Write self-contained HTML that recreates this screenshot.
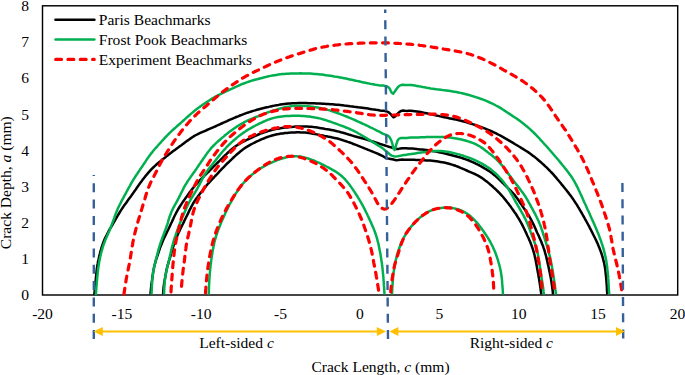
<!DOCTYPE html>
<html><head><meta charset="utf-8">
<style>
html,body{margin:0;padding:0;background:#fff;}
svg{display:block;}
text{font-family:"Liberation Serif",serif;font-size:15.55px;fill:#000;}
</style></head>
<body>
<svg width="685" height="375" viewBox="0 0 685 375">
<!-- plot box -->
<rect x="42.5" y="5.8" width="635.2" height="289.2" fill="none" stroke="#000" stroke-width="1.45"/>
<!-- y tick labels -->
<g text-anchor="end">
<text x="29" y="11">8</text>
<text x="29" y="47.2">7</text>
<text x="29" y="83.3">6</text>
<text x="29" y="119.5">5</text>
<text x="29" y="155.6">4</text>
<text x="29" y="191.8">3</text>
<text x="29" y="227.9">2</text>
<text x="29" y="264.1">1</text>
<text x="29" y="300.2">0</text>
</g>
<!-- x tick labels -->
<g text-anchor="middle">
<text x="42.5" y="318.5">-20</text>
<text x="121.9" y="318.5">-15</text>
<text x="201.2" y="318.5">-10</text>
<text x="280.6" y="318.5">-5</text>
<text x="360" y="318.5">0</text>
<text x="439.4" y="318.5">5</text>
<text x="518.8" y="318.5">10</text>
<text x="598.1" y="318.5">15</text>
<text x="677.5" y="318.5">20</text>
</g>
<!-- axis titles -->
<text x="380.5" y="371.8" text-anchor="middle">Crack Length, <tspan font-style="italic">c</tspan> (mm)</text>
<text transform="translate(11.2,182.7) rotate(-90)" text-anchor="middle">Crack Depth, <tspan font-style="italic">a</tspan> (mm)</text>
<text x="236.5" y="348" text-anchor="middle">Left-sided <tspan font-style="italic">c</tspan></text>
<text x="511.3" y="348.3" text-anchor="middle">Right-sided <tspan font-style="italic">c</tspan></text>

<!-- CURVES -->
<g id="curves" fill="none" stroke-linejoin="round">
<path d="M94.3,295.0 L94.5,292.8 L94.7,290.7 L94.9,288.8 L95.0,286.9 L95.2,284.9 L95.4,283.0 L95.6,281.0 L95.8,279.1 L96.0,277.1 L96.2,275.1 L96.4,273.1 L96.6,271.1 L96.8,269.1 L97.1,267.1 L97.4,265.2 L97.8,263.2 L98.1,261.2 L98.6,259.3 L99.0,257.3 L99.5,255.4 L99.9,253.5 L100.4,251.5 L101.0,249.6 L101.5,247.7 L102.1,245.8 L102.8,243.9 L103.5,242.0 L104.2,240.2 L105.0,238.3 L105.9,236.5 L106.8,234.8 L107.7,233.0 L108.6,231.2 L109.6,229.5 L110.6,227.8 L111.7,226.1 L112.7,224.3 L113.7,222.6 L114.7,220.9 L115.7,219.2 L116.7,217.4 L117.7,215.7 L118.7,214.0 L119.7,212.3 L120.8,210.6 L121.9,208.9 L123.0,207.2 L124.1,205.6 L125.3,204.0 L126.5,202.4 L127.6,200.7 L128.8,199.1 L130.0,197.5 L131.2,195.9 L132.3,194.3 L133.5,192.6 L134.6,191.0 L135.8,189.4 L136.9,187.7 L138.1,186.1 L139.2,184.4 L140.4,182.8 L141.6,181.2 L142.7,179.6 L144.0,178.0 L145.2,176.4 L146.5,174.9 L147.8,173.4 L149.1,171.9 L150.4,170.4 L151.8,168.9 L153.2,167.5 L154.7,166.1 L156.1,164.8 L157.6,163.5 L159.1,162.2 L160.7,160.9 L162.2,159.6 L163.8,158.4 L165.4,157.2 L166.9,155.9 L168.5,154.7 L170.1,153.5 L171.7,152.3 L173.3,151.1 L174.9,149.9 L176.5,148.7 L178.2,147.5 L179.8,146.3 L181.4,145.2 L183.0,143.9 L184.6,142.7 L186.2,141.5 L187.8,140.4 L189.4,139.2 L191.0,138.1 L192.7,137.0 L194.4,135.9 L196.1,135.0 L197.9,134.1 L199.7,133.2 L201.5,132.4 L203.3,131.6 L205.2,130.8 L207.0,130.0 L208.9,129.2 L210.7,128.4 L212.5,127.6 L214.3,126.8 L216.2,126.0 L218.0,125.1 L219.8,124.3 L221.6,123.5 L223.5,122.7 L225.3,121.9 L227.1,121.1 L228.9,120.2 L230.8,119.4 L232.6,118.6 L234.4,117.8 L236.3,117.0 L238.1,116.3 L240.0,115.5 L241.8,114.8 L243.7,114.1 L245.6,113.4 L247.5,112.7 L249.4,112.1 L251.3,111.5 L253.2,110.9 L255.1,110.4 L257.0,109.8 L259.0,109.3 L260.9,108.8 L262.8,108.3 L264.8,107.8 L266.7,107.3 L268.7,106.9 L270.6,106.4 L272.6,106.0 L274.5,105.6 L276.5,105.2 L278.5,104.9 L280.4,104.5 L282.4,104.2 L284.4,104.0 L286.4,103.8 L288.4,103.6 L290.3,103.4 L292.3,103.3 L294.3,103.2 L296.3,103.2 L298.3,103.1 L300.3,103.1 L302.3,103.1 L304.3,103.1 L306.3,103.1 L308.3,103.2 L310.3,103.2 L312.3,103.3 L314.3,103.3 L316.3,103.4 L318.3,103.5 L320.3,103.6 L322.3,103.7 L324.3,103.8 L326.3,103.9 L328.3,104.0 L330.3,104.2 L332.3,104.3 L334.3,104.5 L336.3,104.7 L338.3,104.8 L340.3,105.0 L342.3,105.2 L344.3,105.5 L346.3,105.7 L348.2,105.9 L350.2,106.2 L352.2,106.4 L354.2,106.7 L356.2,106.9 L358.2,107.2 L360.1,107.4 L362.1,107.7 L364.1,108.0 L366.1,108.3 L368.1,108.6 L370.0,108.9 L372.0,109.2 L374.0,109.4 L376.0,109.8 L377.9,110.1 L379.9,110.5 L381.9,110.7 L383.9,110.8 L385.9,111.2 L387.8,111.9 L389.4,112.9 L390.9,114.3 L392.1,115.9 L393.5,117.3 L395.2,116.4 L396.5,114.9 L397.9,113.4 L399.3,112.1 L401.0,111.0 L403.0,110.6 L405.1,110.8 L407.0,110.9 L408.9,110.8 L410.9,110.8 L412.9,111.0 L414.8,111.2 L416.8,111.5 L418.8,111.8 L420.7,112.1 L422.7,112.5 L424.7,112.9 L426.6,113.3 L428.6,113.7 L430.5,114.1 L432.5,114.6 L434.4,115.0 L436.4,115.5 L438.3,115.9 L440.3,116.4 L442.2,116.8 L444.2,117.2 L446.2,117.6 L448.1,118.0 L450.1,118.4 L452.0,118.8 L454.0,119.2 L456.0,119.6 L457.9,120.0 L459.9,120.5 L461.8,121.0 L463.7,121.5 L465.7,122.0 L467.6,122.6 L469.5,123.2 L471.4,123.8 L473.3,124.4 L475.2,125.0 L477.1,125.7 L479.0,126.3 L480.8,127.0 L482.7,127.7 L484.6,128.4 L486.5,129.2 L488.3,129.9 L490.2,130.7 L492.0,131.5 L493.8,132.3 L495.6,133.2 L497.4,134.1 L499.2,135.0 L500.9,135.9 L502.7,136.9 L504.4,137.9 L506.2,138.9 L507.9,139.9 L509.6,140.9 L511.3,141.9 L513.1,142.9 L514.8,144.0 L516.5,145.0 L518.2,146.0 L519.9,147.0 L521.6,148.1 L523.3,149.1 L525.0,150.2 L526.7,151.3 L528.4,152.4 L530.0,153.5 L531.6,154.7 L533.2,155.9 L534.8,157.1 L536.4,158.4 L537.9,159.7 L539.4,161.0 L540.9,162.3 L542.4,163.6 L543.9,165.0 L545.3,166.3 L546.8,167.7 L548.2,169.1 L549.6,170.5 L551.0,172.0 L552.4,173.4 L553.7,174.9 L555.0,176.4 L556.3,177.9 L557.6,179.5 L558.9,181.0 L560.2,182.5 L561.4,184.1 L562.7,185.6 L564.0,187.2 L565.2,188.7 L566.5,190.3 L567.7,191.9 L568.9,193.4 L570.1,195.0 L571.3,196.6 L572.5,198.3 L573.6,199.9 L574.7,201.6 L575.8,203.3 L576.9,204.9 L577.9,206.6 L579.0,208.4 L580.0,210.1 L581.0,211.8 L582.0,213.5 L583.0,215.3 L584.0,217.0 L584.9,218.8 L585.9,220.5 L586.9,222.3 L587.8,224.0 L588.8,225.8 L589.7,227.6 L590.6,229.3 L591.5,231.1 L592.4,232.9 L593.3,234.7 L594.2,236.5 L595.1,238.3 L596.0,240.1 L596.8,241.9 L597.7,243.7 L598.4,245.5 L599.2,247.4 L599.9,249.3 L600.6,251.1 L601.3,253.0 L601.9,254.9 L602.5,256.8 L603.0,258.7 L603.5,260.7 L604.0,262.6 L604.4,264.6 L604.8,266.5 L605.1,268.5 L605.4,270.5 L605.6,272.5 L605.8,274.5 L606.0,276.4 L606.2,278.4 L606.4,280.4 L606.5,282.4 L606.7,284.3 L606.8,286.2 L606.9,288.2 L607.0,290.1 L607.1,292.2 L607.3,294.4" stroke="#000" stroke-width="2.5"/>
<path d="M150.5,294.5 L150.7,292.2 L150.8,290.2 L151.0,288.3 L151.2,286.4 L151.4,284.4 L151.7,282.5 L152.0,280.6 L152.3,278.6 L152.5,276.6 L152.8,274.6 L153.1,272.7 L153.4,270.7 L153.8,268.7 L154.2,266.8 L154.7,264.8 L155.2,262.9 L155.7,261.0 L156.3,259.1 L156.9,257.2 L157.6,255.3 L158.2,253.4 L158.8,251.5 L159.5,249.6 L160.1,247.7 L160.8,245.9 L161.6,244.0 L162.3,242.2 L163.1,240.3 L163.9,238.5 L164.8,236.7 L165.6,234.9 L166.5,233.1 L167.4,231.3 L168.3,229.5 L169.1,227.7 L170.0,225.9 L170.8,224.0 L171.7,222.2 L172.5,220.4 L173.4,218.6 L174.2,216.8 L175.1,215.0 L176.0,213.2 L177.0,211.4 L177.9,209.7 L178.9,208.0 L180.0,206.3 L181.1,204.6 L182.2,202.9 L183.3,201.3 L184.5,199.6 L185.6,198.0 L186.8,196.4 L188.0,194.8 L189.1,193.1 L190.3,191.5 L191.5,189.9 L192.8,188.4 L194.0,186.8 L195.3,185.3 L196.6,183.8 L198.0,182.3 L199.3,180.8 L200.7,179.4 L202.2,178.0 L203.6,176.6 L205.0,175.2 L206.4,173.8 L207.9,172.4 L209.3,171.0 L210.7,169.5 L212.1,168.1 L213.5,166.7 L214.9,165.3 L216.4,163.9 L217.8,162.5 L219.2,161.1 L220.7,159.7 L222.1,158.3 L223.5,156.9 L224.9,155.5 L226.4,154.1 L227.8,152.7 L229.3,151.4 L230.8,150.0 L232.3,148.7 L233.9,147.5 L235.5,146.3 L237.1,145.2 L238.8,144.1 L240.5,143.1 L242.2,142.2 L244.0,141.3 L245.8,140.4 L247.6,139.5 L249.4,138.7 L251.2,137.8 L253.0,137.0 L254.8,136.1 L256.7,135.3 L258.5,134.5 L260.3,133.7 L262.2,133.0 L264.1,132.3 L266.0,131.7 L267.9,131.1 L269.8,130.5 L271.7,130.0 L273.7,129.6 L275.6,129.1 L277.6,128.8 L279.6,128.4 L281.5,128.1 L283.5,127.8 L285.5,127.6 L287.5,127.4 L289.5,127.1 L291.5,126.9 L293.5,126.8 L295.5,126.6 L297.5,126.5 L299.5,126.4 L301.5,126.4 L303.5,126.4 L305.5,126.4 L307.5,126.5 L309.4,126.7 L311.4,126.8 L313.4,127.1 L315.4,127.3 L317.4,127.6 L319.4,127.9 L321.3,128.2 L323.3,128.5 L325.3,128.9 L327.3,129.2 L329.2,129.5 L331.2,129.9 L333.2,130.3 L335.1,130.7 L337.1,131.2 L339.0,131.6 L340.9,132.2 L342.9,132.7 L344.8,133.3 L346.7,133.9 L348.6,134.5 L350.5,135.0 L352.4,135.6 L354.4,136.2 L356.3,136.7 L358.2,137.3 L360.1,137.8 L362.1,138.3 L364.0,138.9 L365.9,139.4 L367.9,140.0 L369.8,140.6 L371.7,141.2 L373.6,141.8 L375.5,142.4 L377.4,143.0 L379.3,143.6 L381.2,144.3 L383.1,144.9 L385.0,145.5 L386.9,146.1 L388.8,146.7 L390.8,147.2 L392.7,147.8 L394.6,148.5 L396.5,149.0 L398.5,148.9 L400.5,148.4 L402.4,148.2 L404.4,148.3 L406.4,148.3 L408.4,148.4 L410.4,148.5 L412.4,148.6 L414.4,148.8 L416.4,149.0 L418.3,149.2 L420.3,149.4 L422.3,149.6 L424.3,149.8 L426.3,150.0 L428.3,150.3 L430.3,150.5 L432.2,150.9 L434.2,151.2 L436.2,151.6 L438.1,152.0 L440.1,152.4 L442.0,152.8 L444.0,153.3 L445.9,153.7 L447.9,154.2 L449.8,154.7 L451.8,155.2 L453.7,155.7 L455.6,156.2 L457.6,156.8 L459.5,157.3 L461.4,157.9 L463.3,158.5 L465.2,159.1 L467.1,159.8 L469.0,160.5 L470.8,161.3 L472.6,162.1 L474.4,162.9 L476.2,163.8 L478.0,164.7 L479.8,165.7 L481.6,166.6 L483.3,167.6 L485.0,168.6 L486.8,169.6 L488.4,170.7 L490.1,171.8 L491.7,172.9 L493.3,174.2 L494.8,175.4 L496.3,176.7 L497.8,178.1 L499.3,179.5 L500.7,180.9 L502.1,182.3 L503.5,183.7 L504.9,185.1 L506.4,186.5 L507.8,187.9 L509.2,189.3 L510.6,190.7 L512.0,192.2 L513.4,193.6 L514.7,195.1 L515.9,196.7 L517.1,198.3 L518.3,199.9 L519.4,201.5 L520.5,203.2 L521.7,204.8 L522.8,206.5 L523.9,208.2 L525.0,209.8 L526.1,211.5 L527.2,213.2 L528.3,214.8 L529.4,216.5 L530.4,218.3 L531.3,220.0 L532.2,221.8 L533.1,223.6 L534.0,225.4 L534.8,227.2 L535.6,229.0 L536.4,230.9 L537.2,232.7 L538.1,234.5 L538.9,236.3 L539.7,238.2 L540.5,240.0 L541.3,241.8 L542.0,243.7 L542.8,245.5 L543.4,247.4 L544.1,249.3 L544.7,251.2 L545.2,253.1 L545.8,255.1 L546.3,257.0 L546.7,258.9 L547.2,260.9 L547.6,262.9 L548.0,264.8 L548.5,266.8 L548.9,268.7 L549.3,270.7 L549.7,272.6 L550.1,274.6 L550.5,276.6 L550.9,278.5 L551.2,280.5 L551.5,282.4 L551.8,284.4 L552.1,286.3 L552.3,288.2 L552.6,290.1 L552.8,292.2 L553.0,294.4" stroke="#000" stroke-width="2.5"/>
<path d="M163.1,294.5 L163.2,292.2 L163.4,290.2 L163.5,288.3 L163.7,286.4 L164.0,284.4 L164.3,282.5 L164.6,280.6 L165.0,278.6 L165.3,276.7 L165.6,274.7 L166.0,272.7 L166.4,270.8 L166.8,268.8 L167.3,266.9 L167.8,264.9 L168.4,263.0 L168.9,261.1 L169.5,259.2 L170.1,257.3 L170.7,255.3 L171.2,253.4 L171.8,251.5 L172.3,249.6 L172.9,247.7 L173.5,245.8 L174.1,243.9 L174.8,242.0 L175.5,240.1 L176.2,238.2 L177.0,236.4 L177.8,234.6 L178.6,232.7 L179.5,230.9 L180.3,229.1 L181.2,227.3 L182.1,225.5 L183.0,223.7 L183.9,221.9 L184.7,220.1 L185.6,218.3 L186.5,216.5 L187.4,214.7 L188.3,212.9 L189.1,211.1 L190.0,209.3 L190.9,207.6 L191.8,205.8 L192.8,204.0 L193.8,202.3 L194.9,200.6 L196.0,199.0 L197.2,197.4 L198.4,195.8 L199.6,194.2 L200.8,192.6 L202.1,191.0 L203.3,189.5 L204.6,187.9 L205.8,186.4 L207.1,184.8 L208.4,183.3 L209.8,181.9 L211.1,180.4 L212.5,178.9 L213.9,177.5 L215.2,176.0 L216.6,174.6 L218.0,173.1 L219.3,171.6 L220.7,170.2 L222.1,168.7 L223.5,167.3 L224.9,165.9 L226.3,164.4 L227.7,163.0 L229.2,161.7 L230.6,160.3 L232.1,158.9 L233.5,157.5 L235.0,156.1 L236.5,154.8 L238.0,153.5 L239.5,152.2 L241.0,150.9 L242.6,149.7 L244.2,148.5 L245.9,147.4 L247.6,146.4 L249.3,145.4 L251.0,144.4 L252.8,143.5 L254.6,142.6 L256.4,141.7 L258.2,140.9 L260.0,140.0 L261.9,139.2 L263.7,138.5 L265.6,137.7 L267.4,137.0 L269.3,136.4 L271.2,135.8 L273.1,135.2 L275.1,134.7 L277.0,134.3 L279.0,133.9 L281.0,133.6 L282.9,133.4 L284.9,133.1 L286.9,132.9 L288.9,132.7 L290.9,132.6 L292.9,132.5 L294.9,132.4 L296.9,132.3 L298.9,132.3 L300.9,132.4 L302.9,132.5 L304.9,132.6 L306.9,132.8 L308.8,133.0 L310.8,133.3 L312.8,133.7 L314.8,134.0 L316.7,134.4 L318.7,134.8 L320.6,135.2 L322.6,135.6 L324.6,136.0 L326.5,136.3 L328.5,136.7 L330.5,137.1 L332.4,137.5 L334.4,137.9 L336.3,138.3 L338.3,138.8 L340.2,139.4 L342.1,140.0 L344.0,140.6 L345.9,141.2 L347.8,141.9 L349.7,142.5 L351.6,143.2 L353.4,144.0 L355.3,144.7 L357.2,145.4 L359.0,146.1 L360.9,146.9 L362.8,147.6 L364.6,148.4 L366.5,149.1 L368.3,149.9 L370.2,150.6 L372.0,151.4 L373.9,152.2 L375.7,152.9 L377.6,153.7 L379.4,154.5 L381.2,155.3 L383.0,156.2 L384.7,157.3 L386.5,158.2 L388.4,158.6 L390.4,158.9 L392.4,159.3 L394.3,159.8 L396.3,160.2 L398.3,160.1 L400.3,159.7 L402.3,159.6 L404.3,159.7 L406.3,159.7 L408.3,159.7 L410.3,159.7 L412.3,159.7 L414.3,159.8 L416.3,159.9 L418.3,160.0 L420.3,160.1 L422.3,160.2 L424.3,160.3 L426.3,160.4 L428.3,160.5 L430.3,160.6 L432.2,160.8 L434.2,161.0 L436.2,161.3 L438.2,161.6 L440.2,161.9 L442.1,162.2 L444.1,162.6 L446.1,163.0 L448.0,163.5 L449.9,164.0 L451.9,164.6 L453.8,165.2 L455.6,165.8 L457.5,166.5 L459.4,167.3 L461.2,168.1 L463.0,168.8 L464.9,169.7 L466.7,170.5 L468.5,171.3 L470.4,172.1 L472.2,172.9 L474.0,173.7 L475.8,174.5 L477.6,175.4 L479.3,176.4 L481.0,177.4 L482.7,178.5 L484.3,179.7 L485.9,180.9 L487.5,182.1 L489.0,183.4 L490.5,184.7 L492.1,186.0 L493.5,187.4 L495.0,188.7 L496.5,190.1 L497.9,191.5 L499.3,192.9 L500.7,194.4 L502.0,195.8 L503.3,197.3 L504.6,198.9 L505.9,200.4 L507.1,202.0 L508.4,203.6 L509.6,205.2 L510.8,206.8 L511.9,208.4 L513.1,210.0 L514.2,211.7 L515.4,213.3 L516.5,215.0 L517.5,216.7 L518.6,218.4 L519.6,220.1 L520.6,221.8 L521.6,223.6 L522.5,225.4 L523.4,227.2 L524.3,229.0 L525.1,230.8 L526.0,232.6 L526.8,234.4 L527.6,236.2 L528.5,238.0 L529.3,239.9 L530.1,241.7 L530.8,243.5 L531.5,245.4 L532.2,247.3 L532.8,249.2 L533.4,251.1 L534.0,253.0 L534.5,255.0 L534.9,256.9 L535.4,258.9 L535.8,260.8 L536.1,262.8 L536.5,264.7 L536.9,266.7 L537.2,268.7 L537.6,270.7 L537.9,272.6 L538.3,274.6 L538.6,276.6 L539.0,278.5 L539.3,280.5 L539.6,282.4 L539.9,284.4 L540.2,286.3 L540.5,288.2 L540.7,290.1 L541.0,292.2 L541.3,294.4" stroke="#000" stroke-width="2.5"/>
<path d="M95.8,295.0 L96.0,292.8 L96.1,290.7 L96.3,288.8 L96.4,286.9 L96.6,284.9 L96.7,283.0 L96.9,281.0 L97.1,279.0 L97.3,277.1 L97.5,275.1 L97.7,273.1 L97.9,271.1 L98.1,269.1 L98.4,267.1 L98.7,265.1 L99.0,263.2 L99.3,261.2 L99.7,259.3 L100.1,257.3 L100.6,255.3 L101.0,253.4 L101.5,251.5 L102.1,249.6 L102.6,247.6 L103.2,245.7 L103.9,243.9 L104.6,242.0 L105.3,240.1 L106.1,238.3 L106.9,236.4 L107.7,234.6 L108.5,232.8 L109.3,230.9 L110.0,229.1 L110.8,227.3 L111.5,225.4 L112.2,223.5 L112.9,221.7 L113.6,219.8 L114.3,217.9 L114.9,216.0 L115.6,214.1 L116.3,212.3 L117.1,210.4 L117.9,208.6 L118.7,206.8 L119.6,205.0 L120.5,203.2 L121.4,201.4 L122.3,199.7 L123.3,197.9 L124.2,196.1 L125.2,194.4 L126.1,192.6 L127.1,190.9 L128.0,189.1 L129.0,187.3 L130.0,185.6 L130.9,183.9 L131.9,182.1 L133.0,180.4 L134.0,178.7 L135.1,177.0 L136.2,175.3 L137.3,173.7 L138.4,172.0 L139.5,170.4 L140.6,168.7 L141.8,167.1 L142.9,165.4 L144.0,163.7 L145.1,162.1 L146.2,160.4 L147.3,158.8 L148.5,157.1 L149.6,155.5 L150.8,153.9 L152.1,152.4 L153.3,150.8 L154.6,149.3 L155.9,147.8 L157.3,146.3 L158.6,144.8 L159.9,143.3 L161.3,141.8 L162.6,140.3 L164.0,138.9 L165.3,137.4 L166.7,136.0 L168.1,134.5 L169.5,133.1 L171.0,131.7 L172.4,130.3 L173.9,129.0 L175.4,127.7 L176.9,126.3 L178.4,125.0 L179.9,123.7 L181.4,122.4 L182.9,121.0 L184.4,119.7 L185.8,118.4 L187.3,117.0 L188.8,115.7 L190.3,114.4 L191.8,113.1 L193.4,111.8 L194.9,110.5 L196.5,109.3 L198.1,108.1 L199.7,106.9 L201.3,105.8 L202.9,104.6 L204.6,103.5 L206.3,102.4 L207.9,101.3 L209.6,100.2 L211.3,99.1 L213.0,98.1 L214.7,97.1 L216.5,96.1 L218.3,95.2 L220.0,94.3 L221.8,93.4 L223.6,92.6 L225.4,91.7 L227.3,90.9 L229.1,90.0 L230.9,89.2 L232.7,88.4 L234.5,87.5 L236.3,86.7 L238.1,85.8 L240.0,85.0 L241.8,84.2 L243.7,83.5 L245.5,82.8 L247.4,82.1 L249.3,81.5 L251.2,80.9 L253.1,80.3 L255.0,79.7 L257.0,79.2 L258.9,78.7 L260.8,78.2 L262.8,77.7 L264.7,77.2 L266.6,76.8 L268.6,76.3 L270.5,75.9 L272.5,75.5 L274.5,75.2 L276.4,74.9 L278.4,74.6 L280.4,74.3 L282.4,74.1 L284.4,73.9 L286.4,73.8 L288.4,73.7 L290.4,73.6 L292.4,73.5 L294.4,73.4 L296.4,73.4 L298.4,73.4 L300.4,73.3 L302.4,73.4 L304.4,73.4 L306.4,73.5 L308.4,73.5 L310.4,73.6 L312.3,73.7 L314.3,73.9 L316.3,74.0 L318.3,74.2 L320.3,74.4 L322.3,74.6 L324.3,74.9 L326.3,75.2 L328.2,75.4 L330.2,75.7 L332.2,76.0 L334.2,76.4 L336.1,76.7 L338.1,77.0 L340.1,77.4 L342.0,77.8 L344.0,78.2 L346.0,78.6 L347.9,79.0 L349.9,79.4 L351.8,79.8 L353.8,80.2 L355.7,80.7 L357.7,81.1 L359.6,81.5 L361.6,82.0 L363.6,82.4 L365.5,82.8 L367.5,83.2 L369.4,83.6 L371.4,84.0 L373.4,84.3 L375.3,84.7 L377.3,85.0 L379.2,85.4 L381.2,85.6 L383.3,85.6 L385.2,85.9 L387.2,86.5 L388.8,87.6 L390.0,89.2 L390.8,91.0 L391.7,92.8 L393.2,93.7 L394.4,92.1 L395.5,90.5 L396.7,88.8 L397.8,87.2 L399.3,85.9 L401.1,85.0 L403.1,84.8 L405.2,84.9 L407.1,85.0 L409.0,84.9 L411.0,85.0 L412.9,85.3 L414.9,85.6 L416.8,85.9 L418.8,86.3 L420.8,86.6 L422.7,87.0 L424.7,87.3 L426.7,87.7 L428.6,88.0 L430.6,88.4 L432.6,88.7 L434.5,89.0 L436.5,89.3 L438.5,89.5 L440.5,89.8 L442.5,90.1 L444.5,90.3 L446.4,90.5 L448.4,90.8 L450.4,91.1 L452.4,91.4 L454.3,91.7 L456.3,92.1 L458.3,92.5 L460.2,92.9 L462.2,93.3 L464.1,93.8 L466.1,94.3 L468.0,94.8 L469.9,95.3 L471.8,95.9 L473.8,96.5 L475.7,97.1 L477.6,97.7 L479.4,98.3 L481.3,99.0 L483.2,99.7 L485.1,100.4 L486.9,101.2 L488.7,102.0 L490.6,102.8 L492.4,103.6 L494.2,104.5 L495.9,105.5 L497.7,106.4 L499.4,107.4 L501.1,108.4 L502.8,109.5 L504.5,110.6 L506.2,111.7 L507.8,112.8 L509.5,113.9 L511.2,115.0 L512.8,116.1 L514.5,117.2 L516.2,118.3 L517.8,119.4 L519.4,120.6 L521.0,121.8 L522.6,123.0 L524.2,124.2 L525.7,125.5 L527.3,126.8 L528.8,128.1 L530.3,129.4 L531.7,130.8 L533.2,132.1 L534.6,133.5 L536.0,134.9 L537.4,136.4 L538.8,137.8 L540.1,139.3 L541.5,140.8 L542.8,142.3 L544.1,143.8 L545.5,145.2 L546.8,146.7 L548.2,148.2 L549.5,149.7 L550.8,151.2 L552.1,152.7 L553.4,154.2 L554.7,155.8 L556.0,157.3 L557.3,158.8 L558.6,160.3 L559.9,161.9 L561.1,163.4 L562.4,165.0 L563.7,166.5 L564.9,168.1 L566.2,169.6 L567.4,171.2 L568.6,172.8 L569.8,174.4 L571.0,176.0 L572.1,177.7 L573.1,179.4 L574.2,181.1 L575.1,182.8 L576.1,184.6 L577.0,186.4 L577.9,188.1 L578.7,190.0 L579.6,191.8 L580.4,193.6 L581.3,195.4 L582.1,197.2 L582.9,199.0 L583.7,200.9 L584.5,202.7 L585.4,204.5 L586.2,206.3 L587.0,208.2 L587.8,210.0 L588.7,211.8 L589.5,213.6 L590.3,215.4 L591.1,217.3 L591.9,219.1 L592.8,220.9 L593.6,222.8 L594.4,224.6 L595.2,226.4 L596.0,228.3 L596.7,230.1 L597.5,231.9 L598.3,233.8 L599.0,235.6 L599.7,237.5 L600.4,239.4 L601.1,241.3 L601.7,243.2 L602.4,245.1 L602.9,247.0 L603.5,248.9 L604.0,250.8 L604.5,252.8 L605.0,254.7 L605.4,256.6 L605.8,258.6 L606.2,260.6 L606.5,262.5 L606.8,264.5 L607.1,266.5 L607.3,268.5 L607.5,270.5 L607.7,272.5 L607.9,274.4 L608.1,276.4 L608.2,278.4 L608.4,280.4 L608.5,282.4 L608.6,284.3 L608.7,286.2 L608.8,288.2 L608.9,290.1 L609.1,292.2 L609.2,294.4" stroke="#00B050" stroke-width="2.5"/>
<path d="M151.5,294.5 L151.6,292.2 L151.7,290.2 L151.8,288.3 L151.8,286.3 L152.0,284.4 L152.1,282.5 L152.2,280.5 L152.4,278.5 L152.6,276.5 L152.8,274.5 L153.1,272.6 L153.4,270.6 L153.8,268.6 L154.2,266.7 L154.7,264.7 L155.2,262.8 L155.6,260.9 L156.1,258.9 L156.6,257.0 L157.1,255.0 L157.6,253.1 L158.1,251.2 L158.7,249.2 L159.2,247.3 L159.8,245.4 L160.4,243.5 L161.0,241.6 L161.7,239.7 L162.4,237.8 L163.1,236.0 L163.8,234.1 L164.5,232.2 L165.2,230.3 L165.9,228.5 L166.5,226.6 L167.2,224.7 L167.8,222.8 L168.3,220.9 L168.9,218.9 L169.5,217.0 L170.2,215.2 L170.9,213.3 L171.6,211.5 L172.4,209.7 L173.3,207.9 L174.3,206.1 L175.2,204.4 L176.2,202.7 L177.2,200.9 L178.1,199.2 L179.0,197.4 L179.9,195.6 L180.8,193.8 L181.7,192.0 L182.6,190.2 L183.5,188.4 L184.4,186.7 L185.4,184.9 L186.5,183.2 L187.5,181.5 L188.6,179.9 L189.8,178.2 L190.9,176.6 L192.1,175.0 L193.2,173.3 L194.4,171.7 L195.6,170.1 L196.7,168.4 L197.8,166.8 L198.9,165.1 L200.1,163.5 L201.2,161.8 L202.3,160.2 L203.4,158.5 L204.6,156.9 L205.7,155.3 L206.9,153.6 L208.0,152.0 L209.3,150.5 L210.5,148.9 L211.8,147.4 L213.2,146.0 L214.6,144.6 L216.0,143.2 L217.5,141.8 L219.0,140.5 L220.5,139.2 L222.0,137.9 L223.6,136.6 L225.1,135.3 L226.7,134.1 L228.2,132.8 L229.8,131.6 L231.4,130.4 L233.0,129.2 L234.7,128.1 L236.3,126.9 L238.0,125.9 L239.7,124.8 L241.4,123.8 L243.2,122.9 L244.9,121.9 L246.7,121.0 L248.5,120.2 L250.4,119.4 L252.2,118.6 L254.0,117.8 L255.9,117.0 L257.7,116.3 L259.6,115.5 L261.5,114.8 L263.3,114.1 L265.2,113.4 L267.1,112.7 L269.0,112.0 L270.9,111.4 L272.8,110.7 L274.7,110.1 L276.6,109.6 L278.5,109.0 L280.4,108.5 L282.4,108.0 L284.3,107.5 L286.3,107.1 L288.2,106.7 L290.2,106.4 L292.2,106.1 L294.1,106.0 L296.1,105.9 L298.1,105.8 L300.1,105.8 L302.1,105.9 L304.1,106.0 L306.1,106.1 L308.1,106.3 L310.1,106.5 L312.1,106.7 L314.1,107.0 L316.0,107.2 L318.0,107.6 L320.0,107.9 L321.9,108.4 L323.9,108.8 L325.8,109.3 L327.7,109.9 L329.6,110.4 L331.5,111.0 L333.4,111.7 L335.3,112.3 L337.2,113.0 L339.1,113.7 L341.0,114.4 L342.8,115.1 L344.7,115.8 L346.6,116.5 L348.4,117.3 L350.3,118.1 L352.1,118.9 L353.9,119.7 L355.7,120.5 L357.6,121.4 L359.4,122.2 L361.2,123.0 L363.0,123.8 L364.9,124.7 L366.7,125.5 L368.5,126.4 L370.3,127.3 L372.1,128.1 L373.9,129.0 L375.6,129.9 L377.4,130.8 L379.2,131.7 L381.0,132.7 L382.7,133.7 L384.6,134.4 L386.5,135.0 L388.3,135.9 L389.7,137.3 L390.6,139.1 L391.4,140.9 L392.1,142.8 L392.6,144.7 L393.1,146.7 L393.6,148.6 L394.6,150.0 L395.3,148.1 L395.8,146.2 L396.3,144.3 L397.0,142.4 L397.6,140.5 L398.8,138.9 L400.6,138.1 L402.7,137.9 L404.8,138.1 L406.8,138.0 L408.7,137.8 L410.6,137.6 L412.6,137.5 L414.6,137.5 L416.6,137.4 L418.6,137.4 L420.6,137.3 L422.6,137.2 L424.6,137.2 L426.6,137.1 L428.6,137.0 L430.6,137.0 L432.6,136.9 L434.6,136.9 L436.6,136.9 L438.6,136.9 L440.6,136.9 L442.6,137.0 L444.6,137.1 L446.6,137.2 L448.6,137.4 L450.6,137.6 L452.6,137.9 L454.5,138.2 L456.5,138.5 L458.5,138.9 L460.4,139.3 L462.4,139.8 L464.3,140.3 L466.2,140.8 L468.1,141.4 L470.0,142.0 L471.9,142.7 L473.8,143.4 L475.6,144.2 L477.3,145.1 L479.0,146.0 L480.7,147.0 L482.3,148.1 L483.9,149.3 L485.4,150.5 L487.0,151.6 L488.5,152.9 L490.1,154.1 L491.7,155.3 L493.2,156.5 L494.7,157.8 L496.2,159.1 L497.6,160.5 L499.0,161.9 L500.3,163.4 L501.6,164.9 L502.9,166.5 L504.1,168.1 L505.3,169.7 L506.5,171.3 L507.7,172.9 L508.9,174.5 L510.1,176.1 L511.3,177.7 L512.5,179.3 L513.7,180.9 L514.9,182.5 L516.1,184.1 L517.4,185.6 L518.6,187.2 L519.8,188.8 L521.0,190.4 L522.2,192.0 L523.4,193.6 L524.5,195.3 L525.6,196.9 L526.6,198.6 L527.7,200.4 L528.6,202.1 L529.6,203.8 L530.6,205.6 L531.5,207.4 L532.5,209.1 L533.4,210.9 L534.4,212.6 L535.3,214.4 L536.2,216.2 L537.1,218.0 L537.9,219.8 L538.8,221.6 L539.5,223.5 L540.3,225.3 L541.0,227.2 L541.6,229.1 L542.3,231.0 L542.9,232.9 L543.5,234.8 L544.1,236.7 L544.7,238.6 L545.3,240.5 L545.9,242.4 L546.5,244.3 L547.1,246.3 L547.6,248.2 L548.2,250.1 L548.7,252.0 L549.2,254.0 L549.7,255.9 L550.2,257.8 L550.6,259.8 L551.0,261.8 L551.4,263.7 L551.8,265.7 L552.1,267.7 L552.4,269.6 L552.8,271.6 L553.1,273.6 L553.4,275.6 L553.7,277.5 L554.0,279.5 L554.3,281.5 L554.6,283.4 L554.9,285.3 L555.1,287.2 L555.3,289.2 L555.6,291.1 L555.9,293.2 L556.0,294.4" stroke="#00B050" stroke-width="2.5"/>
<path d="M164.0,294.5 L164.1,292.2 L164.2,290.2 L164.3,288.3 L164.4,286.3 L164.5,284.4 L164.7,282.5 L164.8,280.5 L165.1,278.5 L165.3,276.6 L165.7,274.6 L166.1,272.7 L166.5,270.7 L166.9,268.8 L167.4,266.9 L167.9,264.9 L168.4,263.0 L168.8,261.0 L169.3,259.1 L169.7,257.2 L170.1,255.2 L170.6,253.3 L171.0,251.3 L171.5,249.4 L171.9,247.4 L172.5,245.5 L173.0,243.6 L173.5,241.6 L174.1,239.7 L174.7,237.8 L175.4,235.9 L176.0,234.0 L176.7,232.2 L177.4,230.3 L178.0,228.4 L178.7,226.5 L179.4,224.7 L180.1,222.8 L180.9,220.9 L181.6,219.1 L182.4,217.3 L183.2,215.4 L184.0,213.6 L184.8,211.7 L185.6,209.9 L186.4,208.1 L187.2,206.3 L188.0,204.5 L189.0,202.7 L189.9,201.0 L190.9,199.2 L191.9,197.5 L193.0,195.8 L194.0,194.1 L195.1,192.4 L196.1,190.7 L197.1,189.0 L198.0,187.2 L199.0,185.5 L199.9,183.7 L200.8,181.9 L201.7,180.1 L202.6,178.4 L203.6,176.6 L204.6,174.9 L205.7,173.2 L206.8,171.6 L207.9,170.0 L209.1,168.4 L210.3,166.8 L211.6,165.2 L212.8,163.7 L214.1,162.1 L215.4,160.6 L216.6,159.0 L217.9,157.4 L219.1,155.9 L220.4,154.3 L221.6,152.8 L222.9,151.3 L224.2,149.8 L225.6,148.3 L226.9,146.8 L228.3,145.4 L229.8,144.0 L231.2,142.6 L232.7,141.3 L234.2,140.0 L235.7,138.7 L237.2,137.4 L238.8,136.1 L240.4,134.9 L242.0,133.7 L243.6,132.6 L245.3,131.5 L246.9,130.4 L248.6,129.3 L250.4,128.3 L252.1,127.3 L253.9,126.4 L255.6,125.5 L257.4,124.6 L259.2,123.7 L261.0,122.8 L262.8,122.0 L264.7,121.2 L266.5,120.4 L268.3,119.7 L270.2,119.0 L272.1,118.4 L274.0,117.9 L276.0,117.4 L277.9,117.0 L279.9,116.7 L281.8,116.5 L283.8,116.3 L285.8,116.1 L287.8,116.0 L289.8,115.9 L291.8,115.8 L293.8,115.7 L295.8,115.7 L297.8,115.7 L299.8,115.8 L301.8,115.9 L303.8,116.0 L305.8,116.2 L307.7,116.4 L309.7,116.6 L311.7,116.9 L313.7,117.2 L315.6,117.6 L317.6,118.0 L319.5,118.4 L321.5,118.9 L323.4,119.5 L325.3,120.0 L327.2,120.6 L329.1,121.3 L331.0,121.9 L332.9,122.6 L334.8,123.3 L336.6,123.9 L338.5,124.6 L340.4,125.3 L342.3,126.0 L344.1,126.7 L346.0,127.5 L347.8,128.2 L349.7,129.0 L351.5,129.8 L353.3,130.7 L355.1,131.6 L356.9,132.5 L358.6,133.5 L360.4,134.5 L362.1,135.5 L363.8,136.5 L365.5,137.5 L367.2,138.6 L368.9,139.7 L370.6,140.7 L372.3,141.8 L374.0,142.8 L375.7,143.9 L377.3,145.0 L379.0,146.0 L380.8,147.0 L382.4,148.1 L384.0,149.4 L385.5,150.7 L387.0,152.0 L388.5,153.3 L390.0,154.6 L391.8,155.6 L393.7,156.2 L395.7,156.4 L397.7,156.3 L399.6,155.9 L401.6,155.5 L403.6,155.1 L405.5,154.9 L407.5,154.6 L409.5,154.3 L411.5,154.0 L413.4,153.7 L415.4,153.4 L417.4,153.1 L419.4,152.8 L421.4,152.5 L423.3,152.2 L425.3,151.9 L427.3,151.7 L429.3,151.4 L431.2,151.2 L433.2,151.1 L435.2,151.0 L437.2,150.9 L439.2,150.9 L441.2,151.0 L443.2,151.2 L445.1,151.4 L447.1,151.7 L449.1,152.1 L451.0,152.5 L453.0,152.9 L454.9,153.4 L456.9,153.9 L458.8,154.4 L460.7,155.0 L462.6,155.5 L464.5,156.1 L466.4,156.8 L468.3,157.5 L470.2,158.2 L472.0,158.9 L473.8,159.7 L475.7,160.5 L477.5,161.4 L479.3,162.3 L481.0,163.2 L482.8,164.1 L484.5,165.2 L486.2,166.2 L487.9,167.3 L489.5,168.4 L491.1,169.6 L492.6,170.9 L494.1,172.2 L495.6,173.5 L497.1,174.9 L498.5,176.3 L499.8,177.8 L501.2,179.2 L502.5,180.8 L503.7,182.3 L504.9,183.9 L506.1,185.5 L507.2,187.1 L508.3,188.8 L509.3,190.5 L510.3,192.2 L511.3,194.0 L512.3,195.7 L513.3,197.5 L514.2,199.2 L515.2,201.0 L516.2,202.7 L517.2,204.4 L518.2,206.2 L519.2,207.9 L520.2,209.6 L521.2,211.4 L522.2,213.1 L523.2,214.8 L524.1,216.6 L525.0,218.4 L525.9,220.2 L526.7,222.0 L527.5,223.8 L528.3,225.7 L529.0,227.5 L529.7,229.4 L530.4,231.3 L531.0,233.1 L531.7,235.0 L532.5,236.9 L533.2,238.7 L533.9,240.6 L534.6,242.5 L535.2,244.3 L535.8,246.2 L536.4,248.2 L536.9,250.1 L537.4,252.0 L537.8,254.0 L538.2,255.9 L538.5,257.9 L538.9,259.9 L539.2,261.8 L539.5,263.8 L539.8,265.8 L540.1,267.8 L540.4,269.7 L540.7,271.7 L541.0,273.7 L541.3,275.7 L541.6,277.6 L541.9,279.6 L542.2,281.6 L542.5,283.5 L542.8,285.4 L543.0,287.3 L543.3,289.3 L543.5,291.2 L543.8,293.3 L543.9,294.5" stroke="#00B050" stroke-width="2.5"/>
<path d="M208.8,294.5 L208.8,292.2 L208.9,290.2 L208.9,288.2 L209.0,286.3 L209.1,284.4 L209.2,282.4 L209.3,280.5 L209.4,278.5 L209.6,276.5 L209.7,274.5 L209.9,272.5 L210.1,270.5 L210.3,268.5 L210.5,266.5 L210.7,264.5 L211.0,262.5 L211.2,260.5 L211.5,258.6 L211.8,256.6 L212.1,254.6 L212.4,252.6 L212.7,250.6 L213.1,248.7 L213.5,246.7 L213.9,244.7 L214.3,242.8 L214.8,240.8 L215.3,238.9 L215.9,237.0 L216.4,235.1 L217.1,233.2 L217.7,231.3 L218.4,229.4 L219.2,227.5 L219.9,225.7 L220.7,223.8 L221.4,222.0 L222.2,220.1 L223.1,218.3 L223.9,216.5 L224.7,214.7 L225.5,212.8 L226.4,211.0 L227.3,209.2 L228.1,207.4 L229.0,205.6 L229.9,203.8 L230.9,202.1 L231.8,200.3 L232.8,198.6 L233.8,196.8 L234.8,195.1 L235.9,193.4 L237.0,191.7 L238.1,190.1 L239.2,188.4 L240.4,186.8 L241.6,185.2 L242.9,183.7 L244.2,182.2 L245.6,180.7 L247.0,179.3 L248.4,177.9 L249.9,176.5 L251.4,175.2 L252.9,173.9 L254.4,172.7 L256.0,171.5 L257.7,170.3 L259.3,169.2 L261.0,168.1 L262.7,167.1 L264.4,166.1 L266.2,165.1 L268.0,164.2 L269.8,163.4 L271.6,162.6 L273.5,161.7 L275.3,161.0 L277.1,160.2 L279.0,159.5 L280.9,158.8 L282.8,158.2 L284.7,157.7 L286.6,157.2 L288.6,156.8 L290.5,156.5 L292.5,156.3 L294.5,156.2 L296.5,156.3 L298.4,156.4 L300.4,156.6 L302.4,157.0 L304.3,157.4 L306.2,157.9 L308.1,158.5 L310.0,159.1 L311.9,159.8 L313.8,160.5 L315.6,161.3 L317.4,162.1 L319.3,162.9 L321.1,163.8 L322.9,164.7 L324.7,165.6 L326.4,166.5 L328.2,167.4 L330.0,168.4 L331.7,169.3 L333.5,170.3 L335.2,171.3 L336.8,172.4 L338.5,173.5 L340.0,174.7 L341.6,176.0 L343.0,177.3 L344.4,178.7 L345.8,180.2 L347.1,181.7 L348.3,183.2 L349.5,184.8 L350.7,186.4 L351.9,188.1 L353.0,189.7 L354.1,191.4 L355.2,193.0 L356.3,194.7 L357.4,196.4 L358.4,198.1 L359.5,199.9 L360.5,201.6 L361.5,203.3 L362.5,205.1 L363.4,206.8 L364.3,208.6 L365.2,210.4 L366.1,212.2 L367.0,214.0 L367.8,215.8 L368.7,217.6 L369.5,219.4 L370.4,221.2 L371.2,223.1 L372.0,224.9 L372.8,226.7 L373.6,228.6 L374.3,230.4 L375.0,232.3 L375.7,234.2 L376.3,236.1 L376.9,238.0 L377.4,239.9 L377.9,241.9 L378.4,243.8 L378.8,245.8 L379.2,247.7 L379.6,249.7 L380.0,251.7 L380.4,253.6 L380.7,255.6 L381.0,257.6 L381.3,259.6 L381.6,261.6 L381.9,263.5 L382.1,265.5 L382.4,267.5 L382.6,269.5 L382.8,271.5 L383.0,273.5 L383.2,275.5 L383.4,277.5 L383.5,279.5 L383.7,281.5 L383.8,283.4 L383.9,285.4 L384.1,287.3 L384.2,289.2 L384.3,291.2 L384.4,293.3 L384.4,294.5" stroke="#00B050" stroke-width="2.5"/>
<path d="M392.0,294.5 L392.1,292.2 L392.2,290.2 L392.3,288.2 L392.4,286.3 L392.6,284.4 L392.7,282.4 L392.8,280.5 L393.0,278.5 L393.2,276.5 L393.4,274.5 L393.6,272.5 L393.9,270.5 L394.2,268.5 L394.5,266.5 L394.9,264.6 L395.2,262.6 L395.7,260.6 L396.1,258.7 L396.6,256.7 L397.1,254.8 L397.7,252.9 L398.3,251.0 L398.9,249.1 L399.6,247.2 L400.3,245.3 L401.0,243.5 L401.8,241.6 L402.7,239.8 L403.6,238.0 L404.5,236.3 L405.5,234.5 L406.6,232.8 L407.7,231.2 L408.9,229.6 L410.1,228.0 L411.3,226.4 L412.6,224.9 L414.0,223.4 L415.4,222.0 L416.8,220.5 L418.2,219.2 L419.7,217.8 L421.3,216.6 L422.8,215.3 L424.4,214.2 L426.1,213.1 L427.8,212.1 L429.6,211.2 L431.4,210.4 L433.2,209.7 L435.1,209.1 L437.0,208.6 L439.0,208.2 L440.9,207.9 L442.9,207.7 L444.9,207.6 L446.9,207.6 L448.9,207.6 L450.8,207.8 L452.8,208.1 L454.7,208.5 L456.7,208.9 L458.6,209.5 L460.4,210.2 L462.2,210.9 L464.0,211.8 L465.7,212.8 L467.4,213.9 L469.0,215.1 L470.5,216.3 L472.0,217.6 L473.4,219.0 L474.8,220.4 L476.2,221.9 L477.5,223.4 L478.8,224.9 L480.0,226.5 L481.2,228.1 L482.4,229.7 L483.6,231.4 L484.7,233.0 L485.9,234.7 L486.9,236.4 L488.0,238.0 L489.1,239.8 L490.1,241.5 L491.0,243.3 L491.9,245.0 L492.8,246.8 L493.6,248.7 L494.4,250.5 L495.2,252.3 L495.9,254.2 L496.6,256.1 L497.2,258.0 L497.9,259.9 L498.4,261.8 L499.0,263.8 L499.5,265.7 L500.0,267.6 L500.4,269.6 L500.8,271.6 L501.1,273.5 L501.4,275.5 L501.7,277.5 L501.9,279.5 L502.1,281.5 L502.2,283.4 L502.4,285.4 L502.5,287.3 L502.7,289.2 L502.8,291.2 L502.9,293.3 L503.0,294.5" stroke="#00B050" stroke-width="2.5"/>
<path d="M124.0,294.0 L124.3,291.8 L124.6,289.7 L124.9,287.8 L125.1,285.9 L125.4,284.0 L125.8,282.1 L126.1,280.1 L126.4,278.2 L126.8,276.2 L127.2,274.3 L127.6,272.3 L128.0,270.3 L128.4,268.4 L128.8,266.4 L129.2,264.5 L129.6,262.5 L129.9,260.6 L130.3,258.6 L130.6,256.6 L130.9,254.6 L131.2,252.6 L131.5,250.7 L131.8,248.7 L132.1,246.7 L132.5,244.8 L132.8,242.8 L133.2,240.8 L133.6,238.9 L134.0,236.9 L134.5,235.0 L134.9,233.0 L135.4,231.1 L135.9,229.1 L136.4,227.2 L136.9,225.3 L137.5,223.3 L138.0,221.4 L138.6,219.5 L139.2,217.6 L139.8,215.7 L140.4,213.8 L140.9,211.9 L141.5,209.9 L142.1,208.0 L142.7,206.1 L143.2,204.2 L143.8,202.3 L144.4,200.4 L145.0,198.4 L145.5,196.5 L146.1,194.6 L146.7,192.7 L147.3,190.8 L148.0,188.9 L148.7,187.1 L149.5,185.3 L150.3,183.4 L151.1,181.7 L152.0,179.9 L152.9,178.1 L153.9,176.3 L154.8,174.6 L155.7,172.8 L156.6,171.0 L157.5,169.2 L158.4,167.4 L159.3,165.6 L160.2,163.9 L161.1,162.1 L162.1,160.3 L163.1,158.6 L164.1,156.9 L165.1,155.2 L166.2,153.5 L167.2,151.8 L168.3,150.1 L169.4,148.4 L170.5,146.7 L171.6,145.0 L172.7,143.4 L173.8,141.7 L174.9,140.1 L176.1,138.4 L177.2,136.8 L178.4,135.2 L179.6,133.6 L180.8,132.0 L182.0,130.4 L183.3,128.8 L184.5,127.3 L185.8,125.7 L187.1,124.2 L188.4,122.7 L189.7,121.2 L191.1,119.7 L192.4,118.3 L193.8,116.9 L195.3,115.5 L196.7,114.1 L198.2,112.7 L199.7,111.4 L201.2,110.1 L202.7,108.8 L204.2,107.5 L205.8,106.2 L207.3,104.9 L208.8,103.6 L210.3,102.3 L211.9,101.0 L213.4,99.7 L214.9,98.4 L216.4,97.1 L218.0,95.8 L219.5,94.6 L221.1,93.3 L222.6,92.1 L224.2,90.8 L225.8,89.6 L227.4,88.4 L229.0,87.3 L230.6,86.1 L232.3,84.9 L233.9,83.8 L235.6,82.7 L237.2,81.6 L238.9,80.5 L240.6,79.4 L242.3,78.3 L244.0,77.3 L245.7,76.3 L247.5,75.4 L249.3,74.4 L251.0,73.5 L252.8,72.6 L254.6,71.8 L256.4,70.9 L258.2,70.1 L260.1,69.2 L261.9,68.3 L263.7,67.5 L265.5,66.6 L267.3,65.7 L269.1,64.9 L270.9,64.1 L272.7,63.3 L274.6,62.5 L276.4,61.7 L278.3,60.9 L280.1,60.2 L282.0,59.5 L283.9,58.8 L285.7,58.1 L287.6,57.4 L289.5,56.8 L291.4,56.1 L293.3,55.5 L295.2,54.9 L297.1,54.3 L299.0,53.7 L300.9,53.1 L302.8,52.5 L304.7,51.9 L306.7,51.3 L308.6,50.7 L310.5,50.1 L312.4,49.6 L314.3,49.0 L316.3,48.5 L318.2,48.1 L320.2,47.6 L322.1,47.2 L324.1,46.8 L326.0,46.5 L328.0,46.1 L330.0,45.8 L332.0,45.5 L333.9,45.3 L335.9,45.0 L337.9,44.8 L339.9,44.5 L341.9,44.3 L343.9,44.2 L345.9,44.0 L347.9,43.8 L349.9,43.7 L351.9,43.6 L353.9,43.5 L355.9,43.4 L357.9,43.3 L359.9,43.2 L361.9,43.1 L363.9,43.0 L365.9,43.0 L367.9,42.9 L369.9,42.9 L371.9,42.8 L373.9,42.8 L375.9,42.8 L377.9,42.8 L379.9,42.8 L381.9,42.8 L383.9,42.8 L385.9,42.8 L387.9,42.9 L389.9,43.0 L391.9,43.1 L393.9,43.2 L395.8,43.3 L397.8,43.4 L399.8,43.5 L401.8,43.6 L403.8,43.8 L405.8,43.9 L407.8,44.1 L409.8,44.2 L411.8,44.4 L413.8,44.6 L415.8,44.8 L417.8,45.0 L419.8,45.3 L421.7,45.5 L423.7,45.8 L425.7,46.1 L427.7,46.4 L429.7,46.7 L431.6,47.0 L433.6,47.3 L435.6,47.6 L437.6,48.0 L439.5,48.3 L441.5,48.6 L443.5,49.0 L445.5,49.3 L447.4,49.6 L449.4,50.0 L451.4,50.3 L453.3,50.7 L455.3,51.0 L457.3,51.4 L459.2,51.7 L461.2,52.1 L463.2,52.5 L465.1,53.0 L467.0,53.4 L469.0,54.0 L470.9,54.5 L472.8,55.2 L474.7,55.8 L476.5,56.5 L478.4,57.3 L480.2,58.0 L482.1,58.8 L483.9,59.6 L485.7,60.5 L487.5,61.3 L489.3,62.2 L491.1,63.1 L492.9,64.0 L494.7,64.9 L496.4,65.9 L498.2,66.8 L499.9,67.8 L501.7,68.8 L503.4,69.8 L505.2,70.8 L506.9,71.7 L508.6,72.7 L510.4,73.7 L512.1,74.7 L513.8,75.7 L515.6,76.7 L517.3,77.7 L519.0,78.8 L520.7,79.8 L522.4,80.9 L524.0,82.0 L525.7,83.2 L527.3,84.4 L528.9,85.6 L530.4,86.8 L532.0,88.1 L533.5,89.3 L535.0,90.6 L536.5,92.0 L538.0,93.3 L539.4,94.7 L540.8,96.2 L542.2,97.6 L543.5,99.1 L544.8,100.6 L546.1,102.2 L547.3,103.8 L548.4,105.4 L549.6,107.0 L550.7,108.7 L551.8,110.3 L552.9,112.0 L554.0,113.7 L555.1,115.3 L556.2,117.0 L557.4,118.6 L558.5,120.3 L559.7,121.9 L560.8,123.5 L562.0,125.2 L563.1,126.8 L564.2,128.5 L565.4,130.1 L566.5,131.8 L567.5,133.5 L568.6,135.2 L569.7,136.9 L570.8,138.6 L571.8,140.3 L572.9,142.0 L573.9,143.7 L574.9,145.4 L575.9,147.1 L577.0,148.8 L578.0,150.6 L579.0,152.3 L579.9,154.0 L580.9,155.8 L581.8,157.6 L582.7,159.3 L583.6,161.1 L584.5,162.9 L585.3,164.8 L586.1,166.6 L587.0,168.4 L587.8,170.2 L588.6,172.1 L589.3,173.9 L590.1,175.8 L590.9,177.6 L591.6,179.4 L592.4,181.3 L593.2,183.1 L593.9,185.0 L594.7,186.8 L595.5,188.7 L596.2,190.6 L597.0,192.4 L597.7,194.3 L598.4,196.1 L599.2,198.0 L599.9,199.9 L600.6,201.7 L601.3,203.6 L602.0,205.5 L602.6,207.4 L603.3,209.3 L603.9,211.2 L604.5,213.1 L605.2,215.0 L605.8,216.9 L606.4,218.8 L607.0,220.7 L607.6,222.6 L608.2,224.5 L608.7,226.4 L609.3,228.3 L609.7,230.3 L610.2,232.2 L610.6,234.2 L610.9,236.1 L611.2,238.1 L611.6,240.1 L611.9,242.1 L612.2,244.0 L612.6,246.0 L612.9,248.0 L613.3,249.9 L613.8,251.9 L614.2,253.8 L614.7,255.8 L615.2,257.7 L615.6,259.7 L616.1,261.6 L616.6,263.5 L617.1,265.5 L617.5,267.4 L618.0,269.4 L618.4,271.3 L618.8,273.3 L619.2,275.3 L619.5,277.2 L619.9,279.2 L620.2,281.1 L620.6,283.1 L620.9,285.0 L621.2,286.9 L621.5,288.8 L621.8,290.7 L622.1,292.9 L622.3,294.0" stroke="#FF0000" stroke-width="3.2" stroke-dasharray="5.8 6.4" stroke-linecap="round"/>
<path d="M171.0,292.0 L171.1,289.7 L171.2,287.7 L171.4,285.8 L171.5,283.8 L171.6,281.9 L171.8,280.0 L171.9,278.0 L172.1,276.0 L172.2,274.0 L172.4,272.0 L172.5,270.1 L172.7,268.1 L172.8,266.1 L173.0,264.2 L173.2,262.3 L173.4,260.3 L173.6,258.4 L173.8,256.4 L174.0,254.5 L174.2,252.5 L174.4,250.5 L174.7,248.6 L175.0,246.6 L175.3,244.6 L175.7,242.6 L176.1,240.7 L176.5,238.7 L176.9,236.8 L177.4,234.8 L177.9,232.9 L178.3,230.9 L178.8,229.0 L179.2,227.0 L179.7,225.1 L180.2,223.1 L180.6,221.2 L181.1,219.3 L181.6,217.3 L182.2,215.4 L182.7,213.5 L183.3,211.6 L184.0,209.7 L184.6,207.8 L185.3,205.9 L186.1,204.1 L186.8,202.2 L187.6,200.4 L188.5,198.6 L189.3,196.7 L190.2,194.9 L191.0,193.1 L191.9,191.3 L192.8,189.5 L193.6,187.7 L194.5,185.9 L195.4,184.2 L196.4,182.4 L197.3,180.6 L198.3,178.9 L199.4,177.2 L200.4,175.5 L201.5,173.8 L202.6,172.2 L203.7,170.5 L204.8,168.8 L205.9,167.1 L207.0,165.5 L208.1,163.8 L209.2,162.1 L210.3,160.4 L211.4,158.8 L212.6,157.2 L213.8,155.6 L215.0,154.0 L216.2,152.4 L217.4,150.8 L218.7,149.3 L219.9,147.7 L221.2,146.2 L222.5,144.6 L223.8,143.1 L225.2,141.7 L226.6,140.2 L228.0,138.8 L229.4,137.4 L230.9,136.1 L232.4,134.8 L233.9,133.5 L235.5,132.2 L237.0,130.9 L238.6,129.7 L240.1,128.4 L241.7,127.2 L243.3,126.0 L244.9,124.8 L246.5,123.6 L248.2,122.5 L249.8,121.4 L251.5,120.3 L253.2,119.3 L255.0,118.3 L256.7,117.4 L258.5,116.5 L260.3,115.6 L262.2,114.8 L264.0,114.1 L265.9,113.4 L267.8,112.8 L269.7,112.2 L271.6,111.6 L273.5,111.1 L275.5,110.7 L277.4,110.3 L279.4,109.9 L281.4,109.5 L283.4,109.2 L285.3,109.0 L287.3,108.8 L289.3,108.6 L291.3,108.5 L293.3,108.4 L295.3,108.3 L297.3,108.3 L299.3,108.3 L301.3,108.4 L303.3,108.4 L305.3,108.4 L307.3,108.5 L309.3,108.5 L311.3,108.6 L313.3,108.6 L315.3,108.7 L317.3,108.8 L319.3,108.9 L321.3,108.9 L323.3,109.1 L325.3,109.2 L327.3,109.3 L329.3,109.5 L331.3,109.6 L333.3,109.8 L335.3,110.0 L337.3,110.2 L339.3,110.5 L341.2,110.7 L343.2,110.9 L345.2,111.2 L347.2,111.4 L349.2,111.7 L351.2,111.9 L353.2,112.2 L355.1,112.5 L357.1,112.8 L359.1,113.1 L361.1,113.4 L363.1,113.7 L365.0,114.0 L367.0,114.3 L369.0,114.6 L371.0,114.8 L373.0,115.0 L375.0,115.1 L377.0,115.2 L378.9,115.3 L380.9,115.3 L382.9,115.3 L384.9,115.3 L386.9,115.2 L388.9,115.2 L390.9,115.1 L392.9,115.0 L394.9,115.0 L397.0,114.9 L399.0,114.8 L401.0,114.8 L403.0,114.7 L405.0,114.7 L407.0,114.6 L409.0,114.6 L411.0,114.5 L413.0,114.5 L415.0,114.4 L417.0,114.4 L419.0,114.3 L421.0,114.3 L423.0,114.3 L425.0,114.2 L427.0,114.2 L429.0,114.2 L431.0,114.2 L433.0,114.2 L435.0,114.2 L437.0,114.3 L439.0,114.4 L441.0,114.5 L443.0,114.6 L445.0,114.8 L446.9,115.0 L448.9,115.3 L450.9,115.7 L452.8,116.1 L454.7,116.6 L456.7,117.1 L458.6,117.8 L460.4,118.4 L462.3,119.1 L464.2,119.9 L466.0,120.6 L467.8,121.4 L469.7,122.3 L471.5,123.1 L473.3,124.0 L475.1,124.9 L476.9,125.8 L478.6,126.7 L480.4,127.6 L482.2,128.6 L483.9,129.6 L485.6,130.6 L487.3,131.7 L489.0,132.8 L490.6,133.9 L492.2,135.1 L493.8,136.3 L495.3,137.6 L496.9,138.9 L498.4,140.2 L499.9,141.5 L501.4,142.8 L502.8,144.2 L504.3,145.5 L505.7,146.9 L507.2,148.4 L508.5,149.8 L509.9,151.2 L511.2,152.7 L512.5,154.2 L513.8,155.8 L515.1,157.4 L516.3,158.9 L517.4,160.6 L518.6,162.2 L519.7,163.8 L520.8,165.5 L521.8,167.2 L522.8,169.0 L523.8,170.7 L524.7,172.5 L525.6,174.2 L526.6,176.0 L527.5,177.8 L528.3,179.6 L529.2,181.4 L530.1,183.2 L530.9,185.0 L531.7,186.8 L532.5,188.7 L533.3,190.5 L534.1,192.4 L534.8,194.2 L535.5,196.1 L536.2,198.0 L536.9,199.9 L537.6,201.7 L538.3,203.6 L538.9,205.5 L539.6,207.4 L540.2,209.3 L540.8,211.2 L541.3,213.1 L541.9,215.1 L542.4,217.0 L542.9,218.9 L543.4,220.9 L543.9,222.8 L544.3,224.8 L544.8,226.7 L545.2,228.7 L545.6,230.6 L545.9,232.6 L546.3,234.6 L546.6,236.6 L546.9,238.5 L547.2,240.5 L547.5,242.5 L547.8,244.5 L548.0,246.5 L548.3,248.4 L548.6,250.4 L548.8,252.4 L549.1,254.4 L549.3,256.4 L549.6,258.4 L549.9,260.3 L550.2,262.3 L550.5,264.3 L550.8,266.3 L551.2,268.3 L551.5,270.2 L551.8,272.2 L552.1,274.2 L552.5,276.1 L552.8,278.1 L553.1,280.1 L553.4,282.0 L553.7,283.9 L553.9,285.8 L554.2,287.7 L554.5,289.8 L554.8,292.0" stroke="#FF0000" stroke-width="3.2" stroke-dasharray="5.8 6.4" stroke-linecap="round"/>
<path d="M181.0,292.0 L181.2,289.8 L181.4,287.7 L181.6,285.8 L181.7,283.9 L181.9,281.9 L182.1,280.0 L182.3,278.0 L182.5,276.1 L182.7,274.1 L182.9,272.1 L183.1,270.1 L183.4,268.1 L183.6,266.2 L183.9,264.2 L184.2,262.2 L184.4,260.3 L184.7,258.3 L184.9,256.3 L185.1,254.3 L185.4,252.3 L185.6,250.4 L185.9,248.4 L186.1,246.4 L186.4,244.4 L186.8,242.5 L187.1,240.5 L187.6,238.5 L188.0,236.6 L188.5,234.6 L188.9,232.7 L189.4,230.8 L189.8,228.8 L190.2,226.9 L190.6,224.9 L191.0,222.9 L191.3,221.0 L191.7,219.0 L192.1,217.1 L192.5,215.1 L193.0,213.2 L193.5,211.3 L194.1,209.4 L194.8,207.5 L195.5,205.6 L196.3,203.8 L197.1,202.0 L197.9,200.2 L198.8,198.4 L199.7,196.6 L200.6,194.8 L201.5,193.0 L202.5,191.2 L203.4,189.5 L204.4,187.7 L205.4,186.0 L206.4,184.3 L207.4,182.5 L208.4,180.8 L209.4,179.1 L210.5,177.4 L211.5,175.7 L212.6,174.0 L213.8,172.4 L214.9,170.8 L216.1,169.1 L217.3,167.6 L218.5,166.0 L219.8,164.4 L221.1,162.9 L222.4,161.4 L223.7,159.9 L225.0,158.4 L226.4,156.9 L227.7,155.4 L229.1,154.0 L230.4,152.5 L231.8,151.0 L233.2,149.6 L234.6,148.1 L236.0,146.7 L237.4,145.3 L238.9,144.0 L240.4,142.8 L242.0,141.6 L243.6,140.4 L245.3,139.3 L247.0,138.3 L248.7,137.4 L250.5,136.4 L252.3,135.6 L254.1,134.7 L256.0,133.9 L257.8,133.2 L259.7,132.5 L261.6,131.8 L263.5,131.2 L265.4,130.6 L267.3,130.0 L269.2,129.5 L271.1,129.0 L273.1,128.6 L275.0,128.1 L277.0,127.8 L279.0,127.4 L280.9,127.1 L282.9,126.9 L284.9,126.7 L286.9,126.6 L288.9,126.6 L290.9,126.6 L292.8,126.7 L294.8,126.9 L296.8,127.2 L298.7,127.6 L300.7,128.0 L302.6,128.5 L304.5,129.1 L306.4,129.7 L308.3,130.3 L310.2,131.0 L312.0,131.8 L313.8,132.6 L315.6,133.4 L317.4,134.3 L319.2,135.2 L321.0,136.2 L322.7,137.1 L324.4,138.1 L326.1,139.2 L327.8,140.3 L329.4,141.4 L331.0,142.6 L332.5,143.9 L334.0,145.2 L335.5,146.5 L337.0,147.8 L338.5,149.2 L339.9,150.6 L341.4,151.9 L342.8,153.3 L344.2,154.7 L345.7,156.1 L347.1,157.6 L348.4,159.0 L349.8,160.5 L351.1,162.0 L352.4,163.5 L353.6,165.1 L354.8,166.7 L356.0,168.3 L357.2,169.9 L358.3,171.5 L359.4,173.2 L360.5,174.8 L361.7,176.5 L362.7,178.2 L363.8,179.9 L364.9,181.5 L366.0,183.2 L367.1,184.9 L368.2,186.6 L369.2,188.3 L370.3,190.0 L371.3,191.7 L372.3,193.4 L373.3,195.2 L374.2,197.0 L375.1,198.7 L376.1,200.5 L377.0,202.2 L378.0,204.0 L379.1,205.6 L380.5,207.1 L382.1,208.3 L383.9,209.1 L385.9,209.0 L387.5,207.9 L389.0,206.5 L390.4,205.1 L391.7,203.6 L392.9,202.0 L394.1,200.4 L395.2,198.8 L396.4,197.1 L397.4,195.4 L398.5,193.7 L399.6,192.1 L400.7,190.4 L401.8,188.7 L402.9,187.0 L404.0,185.4 L405.1,183.7 L406.2,182.0 L407.3,180.4 L408.5,178.7 L409.6,177.1 L410.7,175.4 L411.8,173.8 L413.0,172.1 L414.2,170.5 L415.4,168.9 L416.6,167.3 L417.8,165.7 L419.0,164.2 L420.3,162.6 L421.5,161.0 L422.7,159.4 L423.9,157.8 L425.1,156.2 L426.4,154.7 L427.6,153.1 L429.0,151.6 L430.3,150.1 L431.7,148.7 L433.1,147.3 L434.5,145.9 L436.0,144.5 L437.5,143.2 L439.0,142.0 L440.6,140.7 L442.2,139.6 L443.8,138.5 L445.5,137.4 L447.2,136.5 L449.0,135.6 L450.8,134.9 L452.6,134.3 L454.5,133.9 L456.5,133.7 L458.4,133.5 L460.4,133.5 L462.3,133.7 L464.3,133.9 L466.2,134.3 L468.1,134.8 L470.0,135.3 L471.9,136.0 L473.8,136.7 L475.6,137.5 L477.4,138.4 L479.1,139.3 L480.8,140.3 L482.5,141.4 L484.1,142.6 L485.6,143.8 L487.0,145.1 L488.4,146.5 L489.8,148.0 L491.0,149.5 L492.3,151.0 L493.5,152.6 L494.7,154.2 L495.9,155.8 L497.1,157.4 L498.3,159.0 L499.4,160.6 L500.5,162.3 L501.7,164.0 L502.7,165.6 L503.8,167.3 L504.9,169.0 L506.0,170.7 L507.0,172.4 L508.1,174.1 L509.1,175.8 L510.2,177.5 L511.2,179.2 L512.1,181.0 L513.1,182.7 L514.0,184.5 L514.8,186.3 L515.7,188.1 L516.6,189.9 L517.4,191.7 L518.3,193.5 L519.1,195.4 L520.0,197.2 L520.9,199.0 L521.7,200.8 L522.5,202.6 L523.4,204.4 L524.2,206.2 L524.9,208.1 L525.7,209.9 L526.4,211.8 L527.1,213.7 L527.7,215.6 L528.3,217.5 L528.9,219.4 L529.5,221.3 L530.0,223.2 L530.5,225.2 L531.0,227.1 L531.5,229.0 L532.1,231.0 L532.6,232.9 L533.1,234.8 L533.6,236.8 L534.1,238.7 L534.6,240.6 L535.0,242.6 L535.5,244.5 L535.9,246.5 L536.3,248.4 L536.7,250.4 L537.0,252.4 L537.4,254.3 L537.7,256.3 L538.1,258.3 L538.4,260.3 L538.7,262.2 L539.0,264.2 L539.4,266.2 L539.7,268.2 L540.0,270.1 L540.3,272.1 L540.6,274.1 L540.8,276.1 L541.0,278.0 L541.2,280.0 L541.4,281.9 L541.6,283.9 L541.8,285.8 L541.9,287.7 L542.1,289.8 L542.3,292.0" stroke="#FF0000" stroke-width="3.2" stroke-dasharray="5.8 6.4" stroke-linecap="round" stroke-dashoffset="6.45"/>
<path d="M205.5,293.0 L205.6,290.8 L205.8,288.7 L205.9,286.8 L206.0,284.9 L206.2,282.9 L206.4,281.0 L206.6,279.0 L206.8,277.1 L207.0,275.1 L207.2,273.1 L207.5,271.1 L207.7,269.1 L208.0,267.1 L208.3,265.1 L208.6,263.2 L208.9,261.2 L209.2,259.2 L209.5,257.3 L209.9,255.3 L210.3,253.3 L210.7,251.4 L211.1,249.4 L211.5,247.5 L212.0,245.5 L212.4,243.6 L212.9,241.6 L213.5,239.7 L214.1,237.8 L214.7,235.9 L215.3,234.0 L215.9,232.1 L216.6,230.2 L217.3,228.4 L218.1,226.5 L218.8,224.7 L219.6,222.8 L220.4,221.0 L221.2,219.1 L222.0,217.3 L222.9,215.5 L223.8,213.7 L224.7,211.9 L225.6,210.2 L226.5,208.4 L227.5,206.7 L228.5,204.9 L229.5,203.2 L230.5,201.5 L231.6,199.8 L232.6,198.1 L233.7,196.4 L234.8,194.7 L235.9,193.0 L237.0,191.4 L238.1,189.7 L239.3,188.1 L240.5,186.5 L241.7,185.0 L243.0,183.4 L244.3,181.9 L245.7,180.5 L247.1,179.0 L248.5,177.7 L250.0,176.3 L251.5,175.0 L253.0,173.7 L254.6,172.5 L256.1,171.2 L257.7,170.0 L259.3,168.9 L261.0,167.7 L262.6,166.6 L264.3,165.4 L265.9,164.4 L267.6,163.3 L269.4,162.3 L271.1,161.4 L272.9,160.6 L274.7,159.8 L276.6,159.1 L278.5,158.4 L280.4,157.9 L282.3,157.4 L284.2,157.0 L286.2,156.6 L288.1,156.4 L290.1,156.3 L292.1,156.2 L294.0,156.3 L296.0,156.5 L297.9,156.8 L299.9,157.2 L301.8,157.7 L303.7,158.3 L305.6,159.0 L307.5,159.7 L309.3,160.4 L311.1,161.2 L312.9,162.0 L314.7,162.9 L316.5,163.8 L318.2,164.8 L320.0,165.8 L321.6,166.9 L323.3,168.0 L324.9,169.2 L326.5,170.4 L328.0,171.7 L329.5,173.0 L331.0,174.3 L332.4,175.7 L333.8,177.1 L335.2,178.5 L336.6,180.0 L338.0,181.4 L339.4,182.8 L340.8,184.3 L342.1,185.8 L343.4,187.3 L344.7,188.8 L346.0,190.3 L347.2,191.9 L348.3,193.5 L349.4,195.2 L350.4,196.9 L351.4,198.6 L352.4,200.4 L353.4,202.1 L354.3,203.9 L355.2,205.7 L356.1,207.5 L356.9,209.3 L357.8,211.1 L358.7,212.9 L359.5,214.7 L360.3,216.5 L361.1,218.4 L361.9,220.2 L362.6,222.1 L363.3,223.9 L364.0,225.8 L364.6,227.7 L365.3,229.6 L365.9,231.5 L366.6,233.4 L367.2,235.3 L367.8,237.2 L368.4,239.1 L369.0,241.0 L369.5,242.9 L370.1,244.9 L370.6,246.8 L371.0,248.7 L371.5,250.7 L371.9,252.6 L372.3,254.6 L372.6,256.6 L373.0,258.5 L373.4,260.5 L373.7,262.5 L374.1,264.4 L374.5,266.4 L374.8,268.4 L375.2,270.3 L375.6,272.3 L376.0,274.2 L376.3,276.2 L376.7,278.2 L377.0,280.1 L377.3,282.1 L377.6,284.0 L377.9,285.9 L378.2,287.8 L378.5,289.7 L378.8,291.9 L379.0,293.0" stroke="#FF0000" stroke-width="3.2" stroke-dasharray="5.8 6.4" stroke-linecap="round"/>
<path d="M390.7,292.0 L390.9,289.7 L391.1,287.7 L391.3,285.8 L391.6,283.8 L391.8,281.9 L392.0,280.0 L392.3,278.0 L392.6,276.0 L392.9,274.1 L393.2,272.1 L393.6,270.1 L394.0,268.2 L394.4,266.2 L394.9,264.2 L395.4,262.3 L396.0,260.4 L396.6,258.5 L397.2,256.6 L397.8,254.7 L398.4,252.8 L399.0,250.8 L399.7,248.9 L400.3,247.0 L400.9,245.1 L401.5,243.2 L402.3,241.4 L403.0,239.5 L403.9,237.7 L404.8,236.0 L405.7,234.2 L406.8,232.5 L407.9,230.9 L409.1,229.3 L410.3,227.7 L411.6,226.1 L412.9,224.6 L414.2,223.1 L415.6,221.7 L417.0,220.3 L418.5,218.9 L420.0,217.6 L421.5,216.3 L423.1,215.1 L424.8,214.0 L426.4,212.9 L428.2,211.9 L429.9,211.0 L431.7,210.2 L433.6,209.5 L435.5,209.0 L437.4,208.5 L439.4,208.2 L441.3,207.9 L443.3,207.8 L445.3,207.7 L447.3,207.8 L449.2,207.9 L451.2,208.2 L453.1,208.6 L455.0,209.1 L456.9,209.7 L458.8,210.4 L460.6,211.2 L462.3,212.1 L464.0,213.1 L465.7,214.2 L467.2,215.5 L468.7,216.7 L470.2,218.1 L471.5,219.6 L472.8,221.1 L474.1,222.6 L475.3,224.2 L476.4,225.9 L477.5,227.5 L478.6,229.2 L479.6,230.9 L480.7,232.7 L481.6,234.4 L482.6,236.2 L483.5,238.0 L484.4,239.8 L485.2,241.6 L486.0,243.4 L486.7,245.3 L487.4,247.2 L488.0,249.1 L488.6,251.0 L489.0,252.9 L489.5,254.9 L489.9,256.9 L490.3,258.8 L490.6,260.8 L491.0,262.8 L491.3,264.8 L491.6,266.7 L491.9,268.7 L492.2,270.7 L492.4,272.7 L492.7,274.7 L492.9,276.7 L493.1,278.7 L493.2,280.6 L493.4,282.6 L493.5,284.5 L493.6,286.4 L493.7,288.4 L493.8,290.5 L494.0,292.5" stroke="#FF0000" stroke-width="3.2" stroke-dasharray="5.8 6.4" stroke-linecap="round"/>
</g>

<!-- blue dashed lines -->
<g stroke="#35609A" stroke-width="2.4" stroke-dasharray="9 7.3" fill="none">
<line x1="93.8" y1="339" x2="93.8" y2="175"/>
<line x1="388" y1="339" x2="385.2" y2="9.6"/>
<line x1="623.2" y1="338.6" x2="622.4" y2="182.8"/>
</g>
<!-- yellow arrows -->
<g stroke="#FFC000" stroke-width="2" fill="#FFC000">
<line x1="102" y1="331.5" x2="377.5" y2="331.5"/>
<polygon points="93.5,331.5 102.8,327 102.8,336" stroke="none"/>
<polygon points="386,331.5 376.8,327 376.8,336" stroke="none"/>
<line x1="397" y1="331.5" x2="617" y2="331.5"/>
<polygon points="389.4,331.5 398.4,327 398.4,336" stroke="none"/>
<polygon points="624.8,331.5 616,327 616,336" stroke="none"/>
</g>

<!-- legend -->
<g>
<line x1="55.5" y1="19.7" x2="94.4" y2="19.7" stroke="#000" stroke-width="2.6" stroke-linecap="round"/>
<line x1="55.5" y1="39.6" x2="94.4" y2="39.6" stroke="#00B050" stroke-width="2.5" stroke-linecap="round"/>
<line x1="55.7" y1="59.4" x2="94.2" y2="59.4" stroke="#FF0000" stroke-width="3.2" stroke-dasharray="5.8 6.5" stroke-linecap="round"/>
<text x="98.8" y="24.5">Paris Beachmarks</text>
<text x="98.8" y="44.5">Frost Pook Beachmarks</text>
<text x="98.8" y="64.6">Experiment Beachmarks</text>
</g>
</svg>
</body></html>
